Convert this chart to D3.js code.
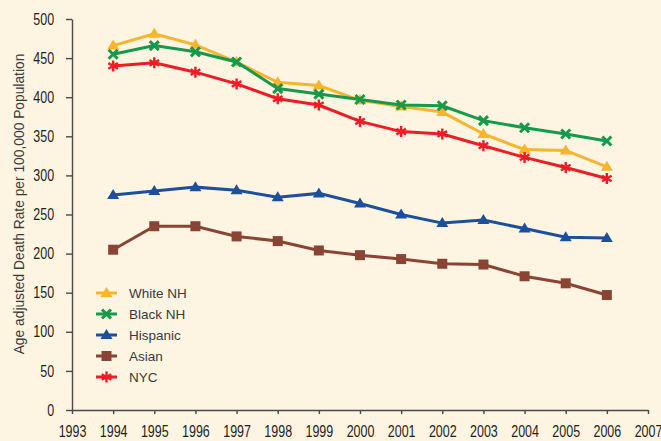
<!DOCTYPE html>
<html lang="en">
<head>
    <meta charset="UTF-8">
    <title>Age adjusted Death Rate</title>
    <script src="https://d3js.org/d3.v7.min.js"></script>
    <style>
        html, body { margin: 0; padding: 0; background: #fdf4e2; }
        svg { display: block; }
        .tick text { font-family: "Liberation Sans", Arial, sans-serif; font-size: 16px; fill: #231f20; }
        .axis path, .axis line { stroke: #4a4a4a; stroke-width: 1.4px; }
    </style>
</head>
<body>
    <svg width="661" height="441"></svg>
    <script>
        // Jahre und Werte
        var years = [1994, 1995, 1996, 1997, 1998, 1999, 2000, 2001, 2002, 2003, 2004, 2005, 2006];
        var whiteNH  = [466, 481, 467, 445, 419, 415, 396, 388, 381, 353, 333, 332, 311];
        var blackNH  = [455, 466, 458, 445, 411, 404, 397, 390, 389, 370, 361, 353, 344];
        var hispanic = [275, 280, 285, 281, 272, 277, 264, 250, 239, 243, 232, 221, 220];
        var asian    = [205, 235, 235, 222, 216, 204, 198, 193, 187, 186, 171, 162, 147];
        var nyc      = [440, 444, 432, 417, 398, 390, 369, 356, 353, 338, 323, 310, 296];

        var seriesNames = ["White NH", "Black NH", "Hispanic", "Asian", "NYC"];
        var seriesValues = [whiteNH, blackNH, hispanic, asian, nyc];
        var seriesColors = ["#f7b52c", "#16994a", "#1c4f9c", "#8a4434", "#ee1c25"];
        var seriesSymbols = ["triangle", "cross", "triangle", "square", "star"];

        var xTicks = d3.range(1993, 2008);
        var yTicks = [0, 50, 100, 150, 200, 250, 300, 350, 400, 450, 500];

        var svg = d3.select('svg');

        var x = d3.scaleLinear().domain([1993, 2007]).range([72, 648]);
        var y = d3.scaleLinear().domain([0, 500]).range([410, 19]);

        // Achsen (Schrift schmal gestaucht wie im Original)
        svg.append('g')
            .attr('class', 'axis')
            .attr('transform', 'translate(0,410)')
            .call(d3.axisBottom(x).tickValues(xTicks).tickFormat(d3.format('d')).tickSizeInner(4).tickSizeOuter(0).tickPadding(12))
            .selectAll('.tick text')
            .attr('transform', 'scale(0.78,1)');

        svg.append('g')
            .attr('class', 'axis')
            .attr('transform', 'translate(72,0)')
            .call(d3.axisLeft(y).tickValues(yTicks).tickSizeInner(6).tickSizeOuter(0).tickPadding(17))
            .selectAll('.tick text')
            .attr('transform', 'scale(0.78,1)');

        svg.append('text')
            .attr('transform', 'translate(24,204) rotate(-90)')
            .attr('text-anchor', 'middle')
            .style('font-family', '"Liberation Sans", Arial, sans-serif')
            .style('font-size', '13.8px')
            .style('fill', '#3a3a3a')
            .text('Age adjusted Death Rate per 100,000 Population');

        // Markierungen zeichnen
        function drawMarker(g, type, color, cx, cy) {
            if (type === 'triangle') {
                g.append('path')
                    .attr('d', 'M' + (cx - 6) + ',' + (cy + 4) + 'L' + cx + ',' + (cy - 6) + 'L' + (cx + 6) + ',' + (cy + 4) + 'Z')
                    .attr('fill', color);
            } else if (type === 'square') {
                g.append('rect')
                    .attr('x', cx - 5).attr('y', cy - 5)
                    .attr('width', 10).attr('height', 10)
                    .attr('fill', color);
            } else if (type === 'cross') {
                g.append('path')
                    .attr('d', 'M' + (cx - 4.5) + ',' + (cy - 4.5) + 'L' + (cx + 4.5) + ',' + (cy + 4.5) +
                               'M' + (cx + 4.5) + ',' + (cy - 4.5) + 'L' + (cx - 4.5) + ',' + (cy + 4.5))
                    .attr('stroke', color).attr('stroke-width', 3).attr('fill', 'none');
            } else if (type === 'star') {
                g.append('path')
                    .attr('d', 'M' + cx + ',' + (cy - 5.5) + 'L' + cx + ',' + (cy + 5.5) +
                               'M' + (cx - 4.8) + ',' + (cy - 2.8) + 'L' + (cx + 4.8) + ',' + (cy + 2.8) +
                               'M' + (cx + 4.8) + ',' + (cy - 2.8) + 'L' + (cx - 4.8) + ',' + (cy + 2.8))
                    .attr('stroke', color).attr('stroke-width', 2.4).attr('fill', 'none');
            }
        }

        var line = d3.line()
            .x(function(d) { return x(d[0]); })
            .y(function(d) { return y(d[1]); });

        seriesValues.forEach(function(vals, i) {
            var data = years.map(function(yr, j) { return [yr, vals[j]]; });
            var g = svg.append('g');
            g.append('path')
                .datum(data)
                .attr('d', line)
                .attr('fill', 'none')
                .attr('stroke', seriesColors[i])
                .attr('stroke-width', 3);
            data.forEach(function(d) {
                drawMarker(g, seriesSymbols[i], seriesColors[i], x(d[0]), y(d[1]));
            });
        });

        // Legende
        var legend = svg.append('g');
        seriesNames.forEach(function(name, i) {
            var ly = 293 + i * 21;
            legend.append('line')
                .attr('x1', 96).attr('x2', 117)
                .attr('y1', ly).attr('y2', ly)
                .attr('stroke', seriesColors[i]).attr('stroke-width', 3);
            drawMarker(legend, seriesSymbols[i], seriesColors[i], 106.5, ly);
            legend.append('text')
                .attr('x', 129).attr('y', ly + 5)
                .style('font-family', '"Liberation Sans", Arial, sans-serif')
                .style('font-size', '13.5px')
                .style('fill', '#3a3a3a')
                .text(name);
        });
    </script>
</body>
</html>
